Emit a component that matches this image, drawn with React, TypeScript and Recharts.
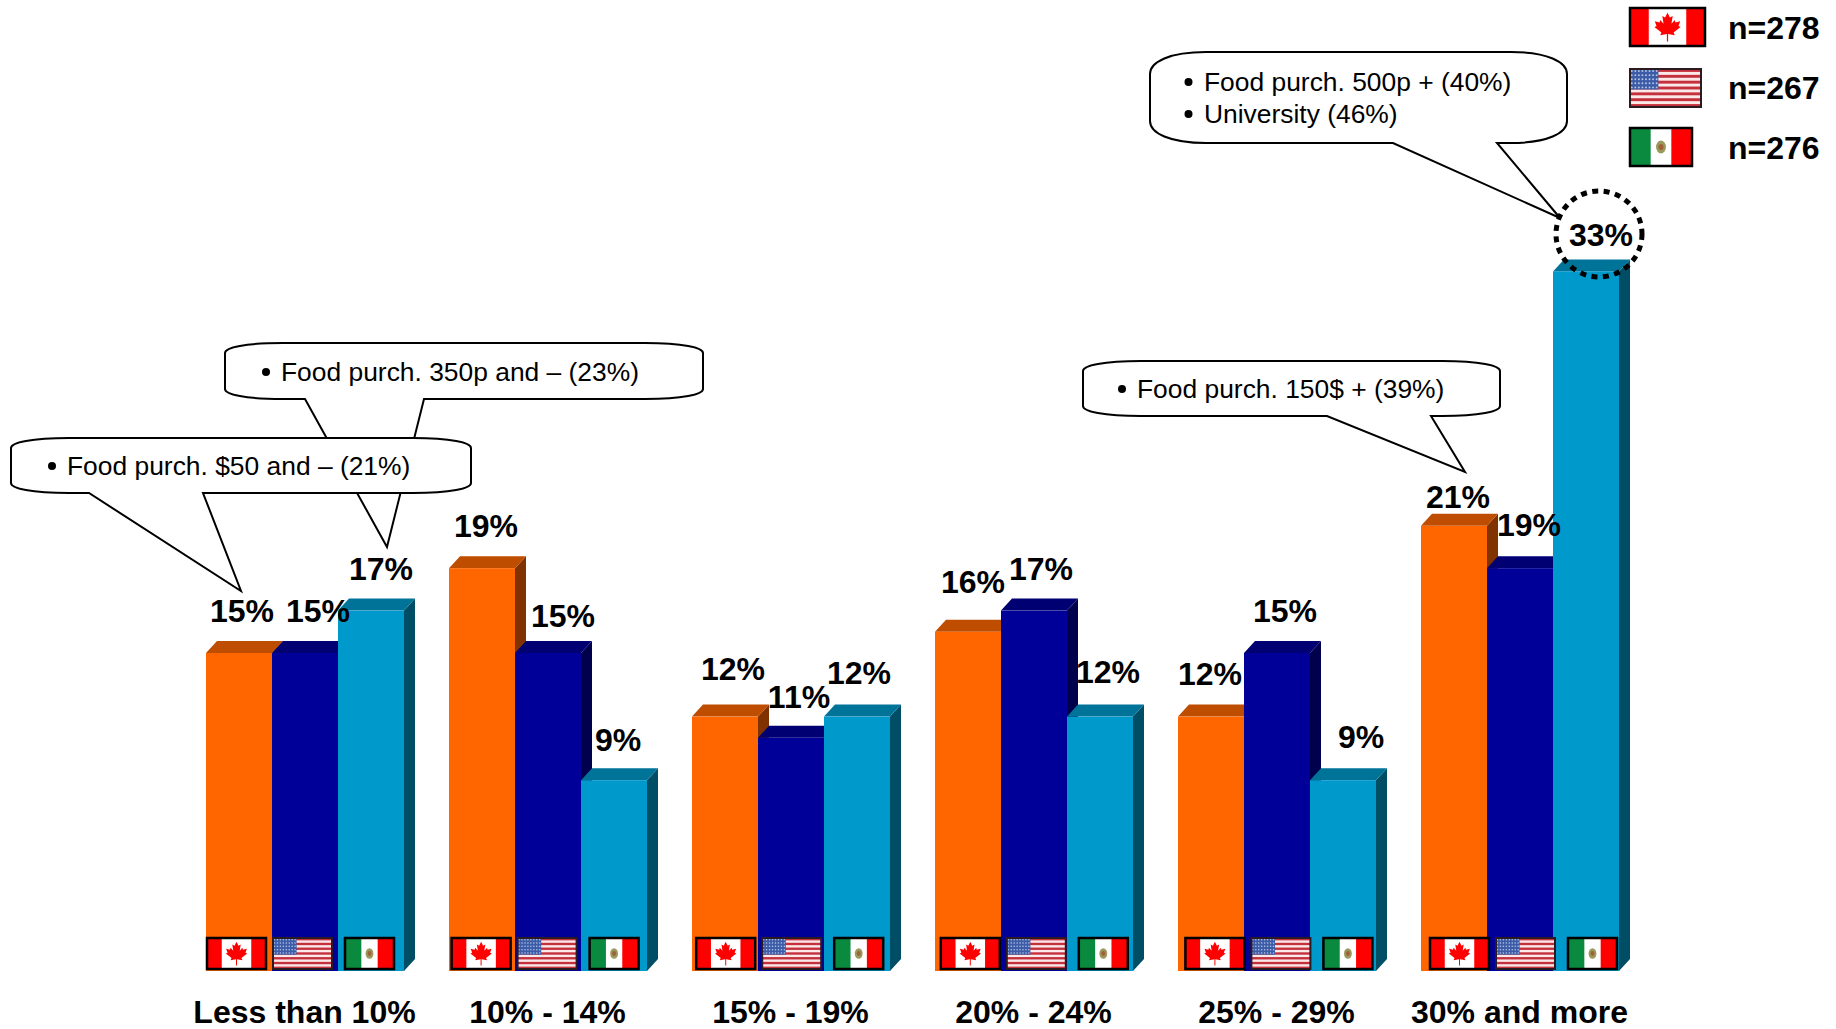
import { BarChart, Bar, XAxis, YAxis, LabelList } from 'recharts'

const categories = ['Less than 10%', '10% - 14%', '15% - 19%', '20% - 24%', '25% - 29%', '30% and more']
const canadaValues = [15, 19, 12, 16, 12, 21]
const usaValues = [15, 15, 11, 17, 15, 19]
const mexicoValues = [17, 9, 12, 12, 9, 33]

const legendRows = [
  { country: 'canada', n: 'n=278' },
  { country: 'usa', n: 'n=267' },
  { country: 'mexico', n: 'n=276' },
]

const chartData = categories.map((label, i) => ({
  label,
  canada: canadaValues[i],
  usa: usaValues[i],
  mexico: mexicoValues[i],
}))

const FONT = '"Liberation Sans", Arial, sans-serif'
const DEPTH_X = 11
const DEPTH_Y = 12

const palette = {
  canada: { front: '#ff6600', top: '#bf4d00', side: '#803300' },
  usa: { front: '#000099', top: '#000073', side: '#00004d' },
  mexico: { front: '#0099cc', top: '#007399', side: '#004d66' },
}

// hand placement of the value labels, they don't sit centered on their bars
const labelShift = {
  canada: [3, 4, 8, 5, -1, 4],
  usa: [13, 15, 8, 7, 8, 9],
  mexico: [10, 4, 2, 8, 18, 15],
}
const labelLift = {
  canada: [29, 29, 35, 37, 30, 16],
  usa: [29, 24, 28, 29, 29, 30],
  mexico: [29, 27, 31, 32, 30, 23],
}

const flagInset = { canada: 1, usa: 1, mexico: 7 }
const flagSize = { canada: 59, usa: 59, mexico: 49 }

function MapleLeaf({ cx, cy, size }: { cx: number; cy: number; size: number }) {
  const s = size / 100
  return (
    <g transform={`translate(${cx - 50 * s} ${cy - 50 * s}) scale(${s})`}>
      <polygon
        fill="#ff0000"
        points="50,3 42,19 33,14 37,39 26,27 24,35 8,31 14,47 7,50 30,68 26,77 48,73 48,98 52,98 52,73 74,77 70,68 93,50 86,47 92,31 76,35 74,27 63,39 67,14 58,19"
      />
    </g>
  )
}

function Flag({ country, x, y, w, h }: { country: string; x: number; y: number; w: number; h: number }) {
  if (country === 'canada') {
    return (
      <g>
        <rect x={x} y={y} width={w} height={h} fill="#fff" />
        <rect x={x} y={y} width={w * 0.25} height={h} fill="#ff0000" />
        <rect x={x + w * 0.75} y={y} width={w * 0.25} height={h} fill="#ff0000" />
        <MapleLeaf cx={x + w / 2} cy={y + h / 2} size={h * 0.8} />
        <rect x={x} y={y} width={w} height={h} fill="none" stroke="#000" strokeWidth={2.5} />
      </g>
    )
  }
  if (country === 'usa') {
    const stripe = h / 13
    const cantonW = w * 0.4
    const cantonH = stripe * 7
    const dots = []
    for (let r = 0; r < 5; r++) {
      for (let c = 0; c < 8; c++) {
        dots.push(
          <circle
            key={`${r}-${c}`}
            cx={x + ((c + 0.5) * cantonW) / 8}
            cy={y + ((r + 0.5) * cantonH) / 5}
            r={h / 40}
            fill="#b8c6e6"
          />,
        )
      }
    }
    return (
      <g>
        <rect x={x} y={y} width={w} height={h} fill="#fbe9ea" />
        {Array.from({ length: 7 }, (_, i) => (
          <rect key={i} x={x} y={y + i * 2 * stripe} width={w} height={stripe} fill="#c4303c" />
        ))}
        <rect x={x} y={y} width={cantonW} height={cantonH} fill="#3c5ca8" />
        {dots}
        <rect x={x} y={y} width={w} height={h} fill="none" stroke="#2a1a22" strokeWidth={2} />
      </g>
    )
  }
  return (
    <g>
      <rect x={x} y={y} width={w} height={h} fill="#fff" />
      <rect x={x} y={y} width={w / 3} height={h} fill="#0a8a3e" />
      <rect x={x + (2 * w) / 3} y={y} width={w / 3} height={h} fill="#ff0000" />
      <ellipse cx={x + w / 2} cy={y + h / 2} rx={w * 0.08} ry={h * 0.17} fill="#9a9a5c" />
      <ellipse cx={x + w / 2} cy={y + h / 2} rx={w * 0.04} ry={h * 0.08} fill="#a0603a" />
      <rect x={x} y={y} width={w} height={h} fill="none" stroke="#000" strokeWidth={2.5} />
    </g>
  )
}

function boxBar(country: keyof typeof palette) {
  const c = palette[country]
  return (props: any) => {
    const { x, y, width, height } = props
    const base = y + height
    return (
      <g>
        <polygon
          fill={c.side}
          points={`${x + width},${y} ${x + width + DEPTH_X},${y - DEPTH_Y} ${x + width + DEPTH_X},${base - DEPTH_Y} ${x + width},${base}`}
        />
        <polygon
          fill={c.top}
          points={`${x},${y} ${x + DEPTH_X},${y - DEPTH_Y} ${x + width + DEPTH_X},${y - DEPTH_Y} ${x + width},${y}`}
        />
        <rect x={x} y={y} width={width} height={height} fill={c.front} />
      </g>
    )
  }
}

// flags sit on the floor of each bar, drifting a little to the right group by group
function flagBar(country: keyof typeof flagSize) {
  return (props: any) => {
    const { x, y, height, index } = props
    const base = y + height
    const w = flagSize[country]
    return <Flag country={country} x={x + flagInset[country] + index * 1.6} y={base - 33} w={w} h={31} />
  }
}

function valueLabel(country: keyof typeof labelShift) {
  return (props: any) => {
    const { x, y, width, index, value } = props
    return (
      <text
        x={x + width / 2 + labelShift[country][index]}
        y={y - DEPTH_Y - labelLift[country][index] + 10}
        textAnchor="middle"
        fontFamily={FONT}
        fontWeight={700}
        fontSize={32}
        fill="#000"
      >
        {value}%
      </text>
    )
  }
}

function bubblePath(x1: number, y1: number, x2: number, y2: number, rx: number, ry: number, tail: number[]) {
  const [bx1, tx, ty, bx2] = tail
  return [
    `M${x1 + rx} ${y1}`,
    `L${x2 - rx} ${y1}`,
    `C${x2 - rx * 0.35} ${y1} ${x2} ${y1 + ry * 0.45} ${x2} ${y1 + ry}`,
    `L${x2} ${y2 - ry}`,
    `C${x2} ${y2 - ry * 0.45} ${x2 - rx * 0.35} ${y2} ${x2 - rx} ${y2}`,
    `L${bx2} ${y2}`,
    `L${tx} ${ty}`,
    `L${bx1} ${y2}`,
    `L${x1 + rx} ${y2}`,
    `C${x1 + rx * 0.35} ${y2} ${x1} ${y2 - ry * 0.45} ${x1} ${y2 - ry}`,
    `L${x1} ${y1 + ry}`,
    `C${x1} ${y1 + ry * 0.45} ${x1 + rx * 0.35} ${y1} ${x1 + rx} ${y1}`,
    'Z',
  ].join(' ')
}

function Bubble({ box, rx, ry, tail, bulletX, textX, lines }: {
  box: number[]
  rx: number
  ry: number
  tail: number[]
  bulletX: number
  textX: number
  lines: { text: string; y: number }[]
}) {
  return (
    <g>
      <path
        d={bubblePath(box[0], box[1], box[2], box[3], rx, ry, tail)}
        fill="#fff"
        stroke="#000"
        strokeWidth={2}
        strokeLinejoin="miter"
      />
      {lines.map(l => (
        <g key={l.text}>
          <circle cx={bulletX} cy={l.y - 9} r={4} fill="#000" />
          <text x={textX} y={l.y} fontFamily={FONT} fontSize={26.4} fill="#000">{l.text}</text>
        </g>
      ))}
    </g>
  )
}

function Annotations() {
  return (
    <svg width={1836} height={1029} style={{ position: 'absolute', left: 0, top: 0, pointerEvents: 'none' }}>
      <Bubble
        box={[225, 343, 703, 399]}
        rx={58}
        ry={10}
        tail={[305, 387, 547, 424]}
        bulletX={266}
        textX={281}
        lines={[{ text: 'Food purch. 350p and – (23%)', y: 381 }]}
      />
      <Bubble
        box={[11, 438, 471, 493]}
        rx={58}
        ry={10}
        tail={[89, 241, 591, 203]}
        bulletX={52}
        textX={67}
        lines={[{ text: 'Food purch. $50 and – (21%)', y: 475 }]}
      />
      <Bubble
        box={[1083, 361, 1500, 416]}
        rx={58}
        ry={10}
        tail={[1327, 1465, 472, 1431]}
        bulletX={1122}
        textX={1137}
        lines={[{ text: 'Food purch. 150$ + (39%)', y: 398 }]}
      />
      <Bubble
        box={[1150, 52, 1567, 143]}
        rx={56}
        ry={22}
        tail={[1393, 1560, 218, 1497]}
        bulletX={1188.5}
        textX={1204}
        lines={[
          { text: 'Food purch. 500p + (40%)', y: 91 },
          { text: 'University (46%)', y: 123 },
        ]}
      />
      <circle cx={1599} cy={234} r={43} fill="none" stroke="#000" strokeWidth={5} strokeDasharray="6 5.5" />

      {legendRows.map((row, i) => (
        <g key={row.country}>
          <Flag
            country={row.country}
            x={1630}
            y={[8, 69, 128][i]}
            w={[75, 71, 62][i]}
            h={38}
          />
          <text x={1728} y={[39, 99, 159][i]} fontFamily={FONT} fontWeight={700} fontSize={32} fill="#000">
            {row.n}
          </text>
        </g>
      ))}
    </svg>
  )
}

export default function App() {
  return (
    <div style={{ position: 'absolute', left: 0, top: 0, width: 1836, height: 1029, background: '#fff' }}>
      <BarChart
        width={1836}
        height={1029}
        data={chartData}
        margin={{ top: 123, right: 195, bottom: 0, left: 183 }}
        barCategoryGap={23}
        barGap={0}
      >
        <XAxis
          dataKey="label"
          axisLine={false}
          tickLine={false}
          height={58}
          interval={0}
          tickMargin={23}
          tick={{ fontSize: 32, fontWeight: 700, fontFamily: FONT, fill: '#000' }}
        />
        {/* second axis so the flags and labels get their own pass above every box */}
        <XAxis xAxisId="overlay" dataKey="label" hide height={0} />
        <YAxis hide domain={[0, 40]} width={0} />

        <Bar dataKey="canada" isAnimationActive={false} shape={boxBar('canada')} />
        <Bar dataKey="usa" isAnimationActive={false} shape={boxBar('usa')} />
        <Bar dataKey="mexico" isAnimationActive={false} shape={boxBar('mexico')} />

        <Bar xAxisId="overlay" dataKey="canada" isAnimationActive={false} shape={flagBar('canada')}>
          <LabelList dataKey="canada" content={valueLabel('canada')} />
        </Bar>
        <Bar xAxisId="overlay" dataKey="usa" isAnimationActive={false} shape={flagBar('usa')}>
          <LabelList dataKey="usa" content={valueLabel('usa')} />
        </Bar>
        <Bar xAxisId="overlay" dataKey="mexico" isAnimationActive={false} shape={flagBar('mexico')}>
          <LabelList dataKey="mexico" content={valueLabel('mexico')} />
        </Bar>
      </BarChart>
      <Annotations />
    </div>
  )
}
